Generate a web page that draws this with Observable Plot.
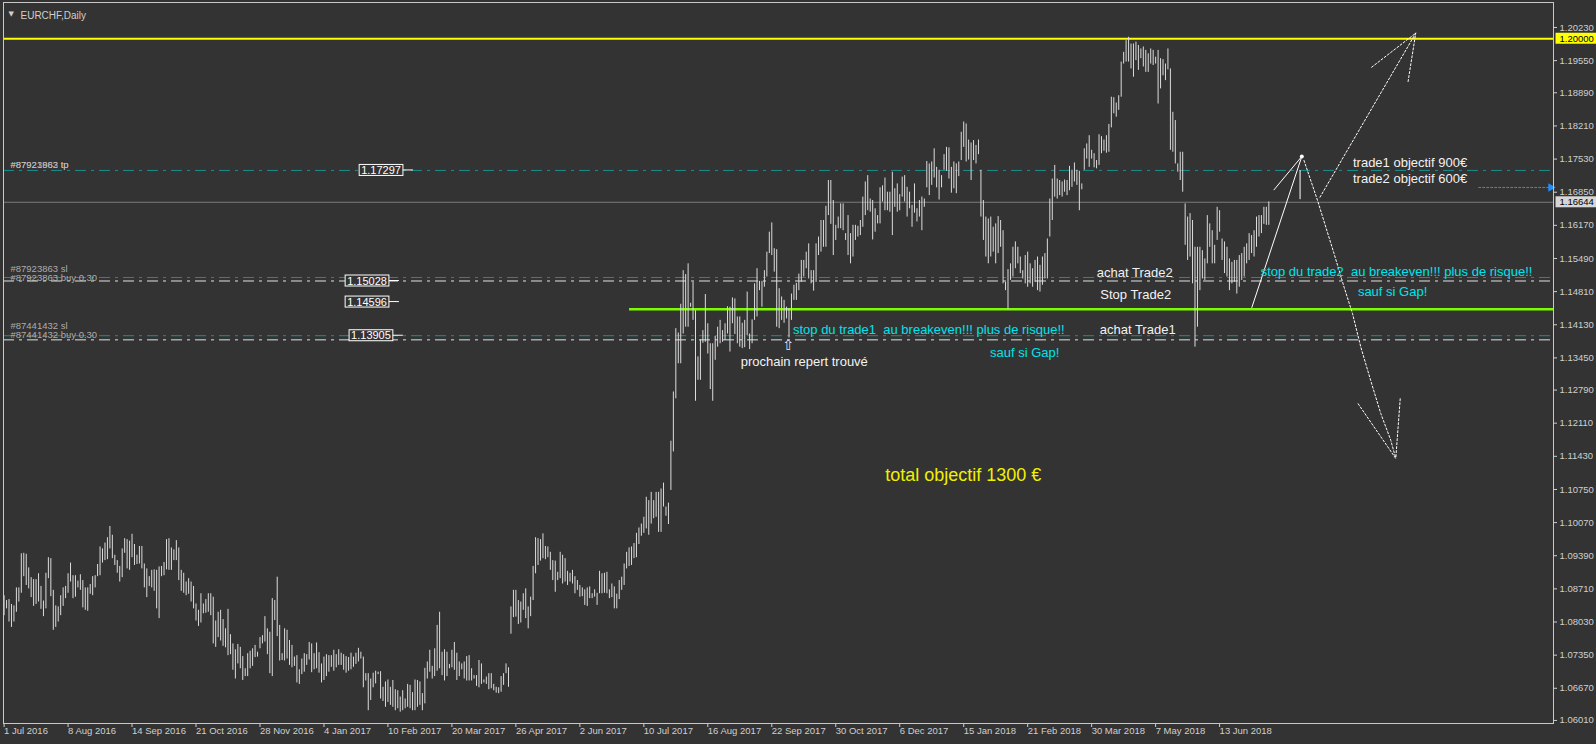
<!DOCTYPE html>
<html><head><meta charset="utf-8">
<script src="https://cdn.jsdelivr.net/npm/d3@7"></script>
<script src="https://cdn.jsdelivr.net/npm/@observablehq/plot@0.6"></script>
<style>
html,body{margin:0;padding:0;background:#333333;overflow:hidden;}
svg{display:block;}
svg text{white-space:pre;}
</style></head>
<body><div id="chart"></div>
<script>
// ---- daily bars EURCHF (bar index 0 = 1 Jul 2016), high / low ----
const highs = [
1.0857,1.0847,1.0849,1.0839,1.0836,1.0873,1.0873,1.0943,1.0944,1.0942,
1.0914,1.0894,1.0890,1.0890,1.0902,1.0876,1.0846,1.0903,1.0935,1.0933,
1.0868,1.0836,1.0834,1.0857,1.0873,1.0876,1.0902,1.0924,1.0898,1.0898,
1.0887,1.0900,1.0888,1.0873,1.0873,1.0880,1.0896,1.0898,1.0921,1.0957,
1.0953,1.0965,1.0976,1.0999,1.0981,1.0940,1.0929,1.0917,1.0953,1.0974,
1.0972,1.0969,1.0983,1.0962,1.0940,1.0958,1.0958,1.0922,1.0912,1.0896,
1.0909,1.0910,1.0909,1.0916,1.0917,1.0925,1.0972,1.0974,1.0955,1.0951,
1.0970,1.0955,1.0909,1.0903,1.0885,1.0892,1.0885,1.0876,1.0840,1.0827,
1.0861,1.0840,1.0849,1.0861,1.0861,1.0854,1.0805,1.0823,1.0827,1.0808,
1.0789,1.0829,1.0777,1.0758,1.0746,1.0757,1.0751,1.0732,1.0707,1.0738,
1.0743,1.0748,1.0755,1.0741,1.0771,1.0775,1.0814,1.0789,1.0782,1.0851,
1.0847,1.0895,1.0796,1.0738,1.0789,1.0786,1.0765,1.0755,1.0731,1.0734,
1.0705,1.0727,1.0738,1.0736,1.0761,1.0758,1.0738,1.0760,1.0740,1.0717,
1.0731,1.0736,1.0734,1.0734,1.0745,1.0736,1.0746,1.0739,1.0736,1.0732,
1.0730,1.0739,1.0731,1.0739,1.0749,1.0741,1.0731,1.0697,1.0697,1.0686,
1.0698,1.0702,1.0700,1.0701,1.0669,1.0680,1.0684,1.0669,1.0683,1.0664,
1.0662,1.0649,1.0662,1.0645,1.0675,1.0673,1.0658,1.0684,1.0683,1.0680,
1.0656,1.0708,1.0721,1.0745,1.0712,1.0748,1.0796,1.0823,1.0741,1.0746,
1.0741,1.0716,1.0745,1.0761,1.0739,1.0721,1.0717,1.0721,1.0732,1.0734,
1.0707,1.0693,1.0693,1.0724,1.0717,1.0684,1.0690,1.0697,1.0697,1.0675,
1.0669,1.0668,1.0691,1.0697,1.0717,1.0709,1.0834,1.0868,1.0868,1.0847,
1.0844,1.0861,1.0871,1.0834,1.0854,1.0917,1.0976,1.0974,1.0972,1.0984,
1.0958,1.0957,1.0946,1.0929,1.0928,1.0905,1.0946,1.0940,1.0933,1.0907,
1.0903,1.0909,1.0896,1.0888,1.0878,1.0873,1.0869,1.0873,1.0875,1.0861,
1.0869,1.0862,1.0907,1.0902,1.0903,1.0905,1.0869,1.0881,1.0875,1.0860,
1.0888,1.0895,1.0922,1.0946,1.0955,1.0957,1.0964,1.0985,1.0996,1.1004,
1.1018,1.1059,1.1052,1.1069,1.1052,1.1069,1.1069,1.1076,1.1088,1.1039,
1.1047,1.1174,1.1275,1.1405,1.1396,1.1455,1.1524,1.1516,1.1538,1.1457,
1.1500,1.1442,1.1347,1.1382,1.1401,1.1475,1.1415,1.1374,1.1374,1.1389,
1.1408,1.1422,1.1401,1.1415,1.1450,1.1449,1.1468,1.1466,1.1429,1.1429,
1.1416,1.1422,1.1480,1.1394,1.1423,1.1497,1.1528,1.1502,1.1502,1.1524,
1.1562,1.1603,1.1622,1.1569,1.1567,1.1487,1.1470,1.1463,1.1449,1.1446,
1.1476,1.1494,1.1498,1.1517,1.1545,1.1545,1.1562,1.1579,1.1524,1.1524,
1.1579,1.1593,1.1627,1.1627,1.1656,1.1709,1.1709,1.1668,1.1617,1.1634,
1.1661,1.1661,1.1600,1.1637,1.1600,1.1617,1.1617,1.1615,1.1627,1.1675,
1.1706,1.1719,1.1671,1.1668,1.1651,1.1637,1.1694,1.1698,1.1714,1.1685,
1.1685,1.1726,1.1692,1.1702,1.1680,1.1716,1.1719,1.1695,1.1685,1.1658,
1.1702,1.1651,1.1668,1.1675,1.1671,1.1748,1.1743,1.1747,1.1774,1.1736,
1.1730,1.1719,1.1762,1.1777,1.1776,1.1736,1.1747,1.1743,1.1747,1.1808,
1.1829,1.1825,1.1792,1.1786,1.1791,1.1781,1.1792,1.1730,1.1668,1.1634,
1.1630,1.1634,1.1613,1.1620,1.1635,1.1627,1.1606,1.1500,1.1526,1.1538,
1.1572,1.1583,1.1572,1.1552,1.1524,1.1555,1.1562,1.1538,1.1528,1.1545,
1.1552,1.1535,1.1552,1.1559,1.1589,1.1671,1.1712,1.1740,1.1712,1.1709,
1.1706,1.1710,1.1709,1.1738,1.1730,1.1745,1.1730,1.1728,1.1702,1.1774,
1.1784,1.1801,1.1771,1.1764,1.1750,1.1803,1.1799,1.1792,1.1801,1.1824,
1.1880,1.1879,1.1868,1.1883,1.1952,1.1972,1.1996,1.2003,1.1989,1.1989,
1.1993,1.1986,1.1979,1.1983,1.1976,1.1969,1.1979,1.1976,1.1962,1.1976,
1.1959,1.1957,1.1948,1.1979,1.1938,1.1849,1.1832,1.1743,1.1767,1.1767,
1.1661,1.1634,1.1641,1.1627,1.1572,1.1572,1.1572,1.1565,1.1548,1.1637,
1.1620,1.1606,1.1576,1.1654,1.1647,1.1589,1.1583,1.1572,1.1548,1.1541,
1.1545,1.1545,1.1555,1.1559,1.1572,1.1579,1.1600,1.1596,1.1606,1.1634,
1.1637,1.1637,1.1654,1.1654,1.1665
];
const lows = [
1.0816,1.0830,1.0803,1.0792,1.0803,1.0823,1.0844,1.0862,1.0896,1.0878,
1.0871,1.0853,1.0835,1.0839,1.0844,1.0829,1.0814,1.0830,1.0892,1.0855,
1.0786,1.0792,1.0803,1.0816,1.0835,1.0851,1.0862,1.0885,1.0851,1.0854,
1.0873,1.0868,1.0832,1.0827,1.0825,1.0860,1.0857,1.0873,1.0896,1.0898,
1.0924,1.0929,1.0931,1.0953,1.0933,1.0919,1.0903,1.0885,1.0894,1.0944,
1.0912,1.0909,1.0935,1.0919,1.0921,1.0922,1.0912,1.0873,1.0853,1.0876,
1.0873,1.0866,1.0830,1.0810,1.0896,1.0898,1.0910,1.0909,1.0909,1.0929,
1.0929,1.0888,1.0866,1.0862,1.0857,1.0860,1.0844,1.0830,1.0805,1.0794,
1.0801,1.0820,1.0821,1.0823,1.0816,1.0758,1.0751,1.0771,1.0764,1.0753,
1.0750,1.0734,1.0736,1.0704,1.0686,1.0717,1.0707,1.0683,1.0691,1.0691,
1.0707,1.0712,1.0730,1.0731,1.0748,1.0758,1.0762,1.0736,1.0697,1.0691,
1.0806,1.0773,1.0723,1.0724,1.0723,1.0727,1.0714,1.0709,1.0712,1.0678,
1.0675,1.0695,1.0700,1.0714,1.0725,1.0699,1.0705,1.0707,1.0698,1.0678,
1.0683,1.0691,1.0700,1.0710,1.0702,1.0709,1.0714,1.0714,1.0704,1.0698,
1.0702,1.0705,1.0710,1.0716,1.0721,1.0727,1.0668,1.0682,1.0621,1.0642,
1.0668,1.0676,1.0695,1.0645,1.0640,1.0628,1.0638,1.0632,1.0628,1.0621,
1.0625,1.0618,1.0621,1.0625,1.0628,1.0625,1.0621,1.0621,1.0628,1.0632,
1.0621,1.0635,1.0686,1.0700,1.0686,1.0691,1.0702,1.0707,1.0693,1.0682,
1.0691,1.0707,1.0709,1.0704,1.0683,1.0691,1.0705,1.0686,1.0682,1.0682,
1.0682,1.0686,1.0671,1.0668,1.0675,1.0678,1.0675,1.0664,1.0666,1.0662,
1.0657,1.0656,1.0659,1.0673,1.0697,1.0669,1.0778,1.0812,1.0813,1.0798,
1.0801,1.0827,1.0810,1.0789,1.0814,1.0847,1.0902,1.0919,1.0928,1.0933,
1.0931,1.0935,1.0909,1.0888,1.0864,1.0888,1.0892,1.0881,1.0885,1.0878,
1.0885,1.0881,1.0861,1.0868,1.0854,1.0855,1.0837,1.0835,1.0851,1.0851,
1.0854,1.0837,1.0861,1.0861,1.0862,1.0861,1.0851,1.0853,1.0830,1.0830,
1.0849,1.0868,1.0878,1.0912,1.0917,1.0919,1.0933,1.0935,1.0962,1.0979,
1.0985,1.0994,1.0981,1.1004,1.1015,1.1018,1.0987,1.0987,1.1039,1.1020,
1.1003,1.1073,1.1152,1.1261,1.1333,1.1333,1.1394,1.1408,1.1408,1.1449,
1.1422,1.1256,1.1299,1.1299,1.1375,1.1377,1.1353,1.1280,1.1256,1.1340,
1.1367,1.1374,1.1377,1.1381,1.1394,1.1357,1.1415,1.1393,1.1374,1.1367,
1.1364,1.1366,1.1391,1.1362,1.1374,1.1422,1.1429,1.1483,1.1449,1.1490,
1.1511,1.1559,1.1555,1.1521,1.1408,1.1405,1.1422,1.1416,1.1425,1.1386,
1.1422,1.1463,1.1463,1.1483,1.1500,1.1511,1.1528,1.1507,1.1497,1.1482,
1.1500,1.1555,1.1562,1.1572,1.1572,1.1637,1.1619,1.1555,1.1586,1.1610,
1.1610,1.1606,1.1586,1.1555,1.1538,1.1552,1.1586,1.1593,1.1596,1.1613,
1.1637,1.1647,1.1644,1.1587,1.1603,1.1620,1.1620,1.1665,1.1647,1.1647,
1.1644,1.1596,1.1654,1.1644,1.1647,1.1675,1.1665,1.1634,1.1651,1.1613,
1.1642,1.1624,1.1634,1.1606,1.1654,1.1694,1.1678,1.1699,1.1714,1.1694,
1.1669,1.1694,1.1730,1.1728,1.1712,1.1683,1.1692,1.1682,1.1717,1.1750,
1.1777,1.1747,1.1751,1.1709,1.1750,1.1743,1.1762,1.1634,1.1586,1.1552,
1.1538,1.1552,1.1562,1.1538,1.1559,1.1572,1.1497,1.1483,1.1444,1.1504,
1.1511,1.1528,1.1538,1.1518,1.1507,1.1497,1.1490,1.1497,1.1490,1.1500,
1.1483,1.1480,1.1494,1.1507,1.1507,1.1593,1.1627,1.1675,1.1671,1.1678,
1.1675,1.1685,1.1678,1.1688,1.1695,1.1706,1.1699,1.1647,1.1690,1.1730,
1.1753,1.1736,1.1753,1.1735,1.1733,1.1740,1.1764,1.1769,1.1765,1.1767,
1.1817,1.1846,1.1839,1.1853,1.1880,1.1948,1.1952,1.1952,1.1938,1.1921,
1.1955,1.1935,1.1959,1.1942,1.1931,1.1931,1.1948,1.1945,1.1948,1.1866,
1.1897,1.1924,1.1914,1.1936,1.1771,1.1767,1.1743,1.1726,1.1709,1.1685,
1.1576,1.1545,1.1552,1.1497,1.1367,1.1408,1.1483,1.1507,1.1504,1.1538,
1.1572,1.1538,1.1538,1.1586,1.1603,1.1545,1.1518,1.1511,1.1483,1.1497,
1.1500,1.1476,1.1490,1.1504,1.1511,1.1538,1.1545,1.1559,1.1552,1.1572,
1.1593,1.1600,1.1619,1.1617,1.1617
];

// ---- axes ----
const dateTickIdx = [0,26,52,78,104,130,156,182,208,234,260,286,312,338,364,390,416,442,468,494];
const dateTickLabels = ["1 Jul 2016","8 Aug 2016","14 Sep 2016","21 Oct 2016","28 Nov 2016","4 Jan 2017",
  "10 Feb 2017","20 Mar 2017","26 Apr 2017","2 Jun 2017","10 Jul 2017","16 Aug 2017","22 Sep 2017",
  "30 Oct 2017","6 Dec 2017","15 Jan 2018","21 Feb 2018","30 Mar 2018","7 May 2018","13 Jun 2018"];
const priceTicks = [1.20230,1.19550,1.18890,1.18210,1.17530,1.16850,1.16170,1.15490,1.14810,1.14130,
  1.13450,1.12790,1.12110,1.11430,1.10750,1.10070,1.09390,1.08710,1.08030,1.07350,1.06670,1.06010];
const hiliteLabels = [1.20000, 1.16644];
const hiliteColors = ["#ffff00", "#d6d6d6"];

// ---- levels ----
const yellowLevel = [1.20000];
const tealLevels = [1.17297, 1.15100, 1.13905];
const buyLevels = [1.15028, 1.13820];
const currentPrice = [1.16644];
const greenLine = [{p: 1.14450, from: 254.2, to: 629.7}];

// ---- labels on the left ----
const orderLabels = [
  {t: "#87921982 tp", i: 2.6, p: 1.17410},
  {t: "#87923863 tp", i: 2.6, p: 1.17410},
  {t: "#87923863 sl", i: 2.6, p: 1.15274},
  {t: "#87923863 buy 0.30", i: 2.6, p: 1.15089},
  {t: "#87441432 sl", i: 2.6, p: 1.14104},
  {t: "#87441432 buy 0.30", i: 2.6, p: 1.13920}
];
const priceBoxes = [
  {v: 1.17297, i: 153.2},
  {v: 1.15028, i: 147.5},
  {v: 1.14596, i: 147.5},
  {v: 1.13905, i: 149.1}
];

// ---- annotations ----
const whiteNotes = [
  {t: "achat Trade2", i: 459.5, p: 1.15188},
  {t: "Stop Trade2", i: 459.9, p: 1.14745},
  {t: "achat Trade1", i: 460.7, p: 1.14026},
  {t: "prochain repert trouvé", i: 325.2, p: 1.13370},
  {t: "trade1 objectif 900€", i: 571.4, p: 1.17454},
  {t: "trade2 objectif 600€", i: 571.4, p: 1.17125}
];
const cyanNotesStart = [
  {t: "stop du trade1  au breakeven!!! plus de risque!!", i: 320.6, p: 1.14033}
];
const cyanNotes = [
  {t: "sauf si Gap!", i: 414.8, p: 1.13561},
  {t: "stop du trade2  au breakeven!!! plus de risque!!", i: 565.9, p: 1.15209},
  {t: "sauf si Gap!", i: 564.3, p: 1.14798}
];
const totalNote = [{t: "total objectif 1300 €", i: 389.8, p: 1.11037}];
const markerNote = [{t: "⇧", i: 318.6, p: 1.13704}];

const solidArrow = [
  {g: 0, i: 507.1, p: 1.14484}, {g: 0, i: 527.4, p: 1.17583},
  {g: 1, i: 516.1, p: 1.16899}, {g: 1, i: 527.4, p: 1.17583},
  {g: 2, i: 526.7, p: 1.17296}, {g: 2, i: 526.7, p: 1.16715}
];
const arrowTip = [{i: 527.4, p: 1.17583}];
const upArrow = [
  {g: 0, i: 534.8, p: 1.16748}, {g: 0, i: 573.7, p: 1.20113},
  {g: 1, i: 555.8, p: 1.19415}, {g: 1, i: 573.7, p: 1.20113},
  {g: 2, i: 570.6, p: 1.19122}, {g: 2, i: 573.7, p: 1.20113}
];
const downArrow = [
  {g: 0, i: 528.3, p: 1.17501}, {g: 0, i: 533.8, p: 1.16680}, {g: 0, i: 540.5, p: 1.15592},
  {g: 0, i: 544.6, p: 1.14901}, {g: 0, i: 548.0, p: 1.14361}, {g: 0, i: 551.4, p: 1.13669},
  {g: 0, i: 555.4, p: 1.12986}, {g: 0, i: 559.5, p: 1.12309}, {g: 0, i: 563.6, p: 1.11755},
  {g: 0, i: 565.6, p: 1.11385},
  {g: 1, i: 550.3, p: 1.12508}, {g: 1, i: 565.6, p: 1.11385},
  {g: 2, i: 567.4, p: 1.12611}, {g: 2, i: 565.6, p: 1.11385}
];
const blueLine = [{i: 599.3, p: 1.16947}, {i: 628.4, p: 1.16947}];
const blueTip = [{i: 628.6, p: 1.16947}];

// ---------------------------------------------------------------
const n = Math.min(highs.length, lows.length);
const bars = d3.range(n).map(i => ({i, h: highs[i], l: lows[i]}));
const FONT = "'Liberation Sans', Arial, sans-serif";
const DASHDOT = "11,5,3,5";

const svg = Plot.plot({
  width: 1596,
  height: 744,
  marginLeft: 3,
  marginRight: 43,
  marginTop: 2,
  marginBottom: 21,
  style: {background: "#333333", color: "#cfcfcf", fontFamily: FONT, fontSize: "9.5px"},
  x: {type: "linear", domain: [-0.24, 629.7], axis: "bottom", ticks: dateTickIdx,
      tickFormat: () => "", tickSize: 4, label: null},
  y: {type: "linear", domain: [1.059472, 1.207430], axis: "right", ticks: priceTicks,
      tickFormat: d => d.toFixed(5), tickSize: 3, tickPadding: 3, label: null},
  marks: [
    Plot.ruleY(currentPrice, {stroke: "#7c7c7c", strokeWidth: 1}),
    Plot.ruleY(tealLevels, {stroke: "#15908f", strokeDasharray: DASHDOT}),
    Plot.ruleY(buyLevels, {stroke: "#e2e2e2", strokeDasharray: DASHDOT}),
    Plot.ruleY(yellowLevel, {stroke: "#ffff00", strokeWidth: 2}),
    Plot.ruleY(greenLine, {y: "p", x1: "from", x2: "to", stroke: "#7cfc00", strokeWidth: 2.5}),
    Plot.ruleX(bars, {x: "i", y1: "l", y2: "h", stroke: "#dcdcdc", strokeWidth: 1}),
    // arrows
    Plot.line(solidArrow, {x: "i", y: "p", z: "g", stroke: "#ffffff", strokeWidth: 1}),
    Plot.dot(arrowTip, {x: "i", y: "p", r: 2, fill: "#ffffff"}),
    Plot.line(upArrow, {x: "i", y: "p", z: "g", stroke: "#ffffff", strokeWidth: 1, strokeDasharray: "2,2"}),
    Plot.line(downArrow, {x: "i", y: "p", z: "g", stroke: "#ffffff", strokeWidth: 1, strokeDasharray: "2,2"}),
    Plot.line(blueLine, {x: "i", y: "p", stroke: "#1e90ff", strokeWidth: 1, strokeDasharray: "2,2"}),
    Plot.dot(blueTip, {x: "i", y: "p", symbol: "triangle", rotate: 90, r: 3.2, fill: "#1e90ff", stroke: "none"}),
    // left order labels
    Plot.text(orderLabels, {x: "i", y: "p", text: "t", textAnchor: "start", fill: "#c4c4c4",
      fillOpacity: 0.85, fontSize: 9.5, fontFamily: FONT}),
    Plot.text(priceBoxes, {x: "i", y: "v", text: d => d.v.toFixed(5), fill: "#ffffff",
      fontSize: 11, fontFamily: FONT}),
    // annotations
    Plot.text(whiteNotes, {x: "i", y: "p", text: "t", fill: "#f2f2f2", fontSize: 13, fontFamily: FONT}),
    Plot.text(cyanNotesStart, {x: "i", y: "p", text: "t", textAnchor: "start", fill: "#00e3ec", fontSize: 13, fontFamily: FONT}),
    Plot.text(cyanNotes, {x: "i", y: "p", text: "t", fill: "#00e3ec", fontSize: 13, fontFamily: FONT}),
    Plot.text(totalNote, {x: "i", y: "p", text: "t", fill: "#f0f000", fontSize: 18, fontFamily: FONT}),
    Plot.text(markerNote, {x: "i", y: "p", text: "t", fill: "#dfe8ff", fontSize: 14, fontFamily: "'DejaVu Sans', sans-serif"}),
    // date labels
    Plot.text(dateTickIdx, {x: d => d, text: dateTickLabels, frameAnchor: "bottom", dy: 10,
      textAnchor: "start", fill: "#cfcfcf", fontSize: 9.5, fontFamily: FONT}),
    // highlighted price labels in the right axis
    Plot.text(hiliteLabels, {y: d => d, text: d => d.toFixed(5), frameAnchor: "right", dx: 6,
      textAnchor: "start", fill: "#000000", fontSize: 9.5, fontFamily: FONT}),
    // title
    Plot.text(["EURCHF,Daily"], {frameAnchor: "top-left", dx: 17, dy: 9, textAnchor: "start",
      fill: "#cfcfcf", fontSize: 10, fontFamily: FONT}),
    Plot.text(["▼"], {frameAnchor: "top-left", dx: 5, dy: 9, textAnchor: "start",
      fill: "#cfcfcf", fontSize: 7, fontFamily: "'DejaVu Sans', sans-serif"}),
    Plot.frame({stroke: "#c8c8c8"})
  ]
});
document.getElementById("chart").appendChild(svg);

// boxes around the price labels and coloured backgrounds for highlighted axis labels
const boxTexts = new Set(priceBoxes.map(d => d.v.toFixed(5)));
const hiliteTexts = hiliteLabels.map(d => d.toFixed(5));
const allTexts = Array.from(svg.querySelectorAll("text"));
allTexts.forEach(node => {
  const s = node.textContent;
  const k = hiliteTexts.indexOf(s);
  if (!boxTexts.has(s) && k < 0) return;
  const b = node.getBBox();
  const parent = d3.select(node.parentNode);
  const tr = node.getAttribute("transform");
  if (boxTexts.has(s)) {
    parent.insert("rect", () => node)
      .attr("transform", tr)
      .attr("x", b.x - 2).attr("y", b.y + 0.5)
      .attr("width", b.width + 4).attr("height", b.height - 1)
      .attr("fill", "#333333").attr("stroke", "#ffffff").attr("stroke-width", 1);
    parent.insert("line", () => node)
      .attr("transform", tr)
      .attr("x1", b.x + b.width + 2).attr("x2", b.x + b.width + 12)
      .attr("y1", b.y + b.height / 2).attr("y2", b.y + b.height / 2)
      .attr("stroke", "#ffffff").attr("stroke-width", 1);
  } else {
    parent.insert("rect", () => node)
      .attr("transform", tr)
      .attr("x", b.x - 4).attr("y", b.y)
      .attr("width", b.width + 14).attr("height", b.height)
      .attr("fill", hiliteColors[k]);
  }
});
</script>
</body></html>
